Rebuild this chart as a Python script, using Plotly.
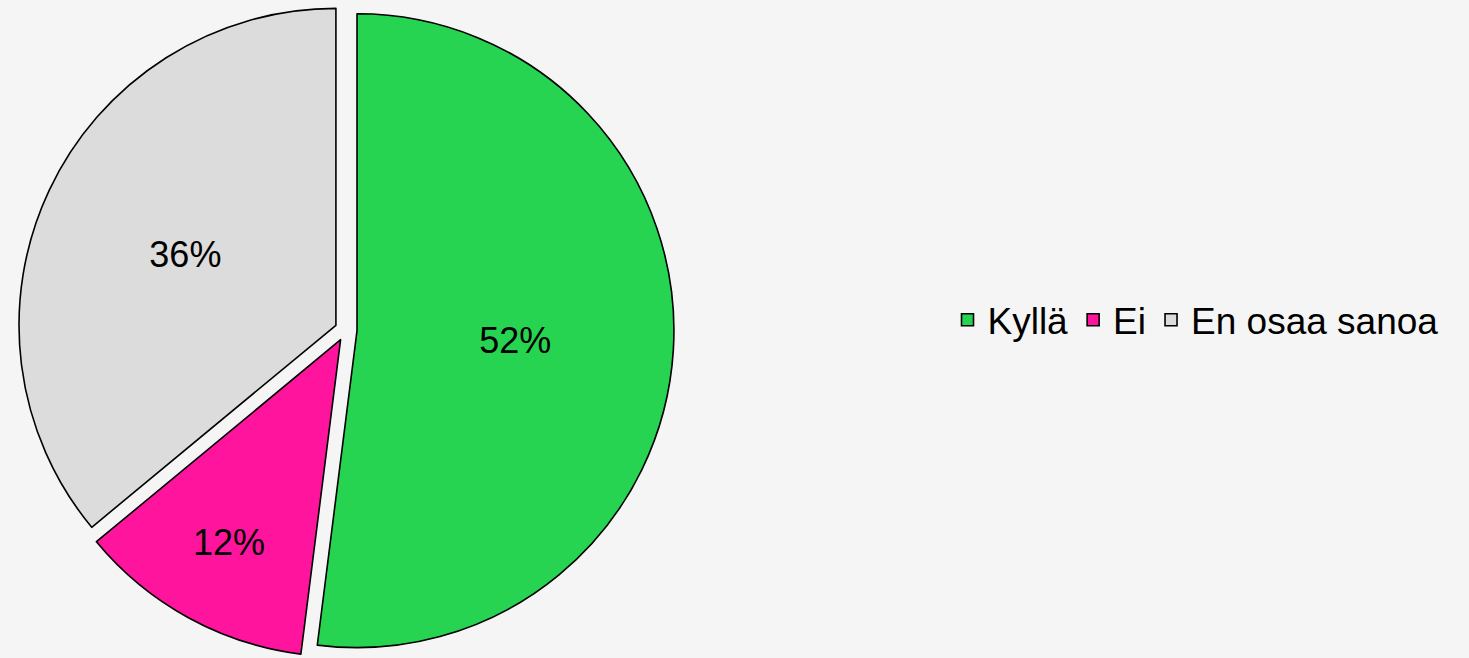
import plotly.graph_objects as go

labels = ['Kyllä', 'Ei', 'En osaa sanoa']
values = [52, 12, 36]
colors = ['#26D452', '#FF149E', '#DCDCDC']

fig = go.Figure(go.Pie(
    labels=labels, values=values, sort=False, direction='clockwise',
    marker=dict(colors=colors, line=dict(color='black', width=1.6)),
    pull=[0.035, 0.035, 0.035],
    textinfo='percent', texttemplate='%{percent:.0%}', textposition='inside',
    insidetextorientation='horizontal',
    textfont=dict(size=36, color='black', family='Liberation Sans, Arial'),
    domain=dict(x=[0, 0.471], y=[0, 1]),
))

fig.update_layout(
    width=1469, height=658,
    paper_bgcolor='#F5F5F5', plot_bgcolor='#F5F5F5',
    margin=dict(l=0, r=0, t=2, b=0),
    font=dict(family='Liberation Sans, Arial', size=36, color='black'),
    legend=dict(orientation='h', x=0.645, y=0.515, xanchor='left', yanchor='middle',
                font=dict(size=37), itemwidth=30, tracegroupgap=0),
)

fig.write_html("out.html", config={'displayModeBar': False},
               post_script="document.body.style.margin='0';document.body.style.background='#F5F5F5';")
